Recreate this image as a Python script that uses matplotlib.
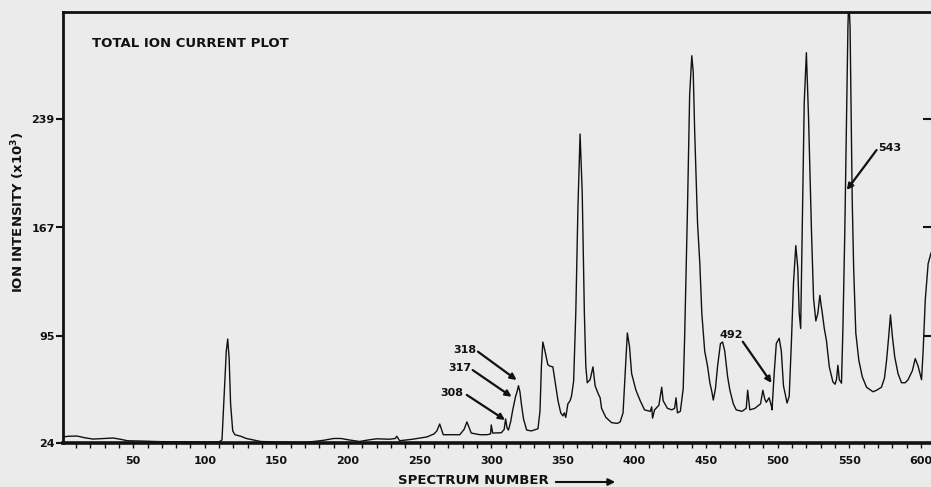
import matplotlib
matplotlib.use("Agg")
import matplotlib.pyplot as plt

# total ion current trace (spectrum number, intensity x10^3)
spectrum = [1, 5, 11, 16, 22, 30, 36, 41, 46, 55, 69, 85, 104, 110, 112, 113.5, 115, 116,
            117, 118, 119.5, 121, 125, 129, 134, 139, 150, 162, 170, 176, 183, 190, 195,
            201, 208, 214, 220, 229, 233, 234, 236, 245, 255, 260, 262, 264, 266.5, 272,
            278, 281, 283, 286, 292, 297, 299.5, 300, 301, 307, 309, 310, 311, 312, 313.5,
            315, 317, 318, 319, 320, 321, 322.5, 324.7, 328, 332.6, 334, 335, 336, 337.5,
            339.5, 341, 343, 344.5, 346.6, 348.5, 350, 351, 352, 353.5, 355, 356, 357.5,
            359, 360.5, 362, 363.5, 365, 366, 367, 369, 371, 372.5, 374.5, 376, 377, 380,
            384, 388, 390, 392, 393.5, 395, 396.5, 398, 401, 404, 407, 411, 412, 412.6,
            414, 417, 419, 420, 423, 426, 428, 429, 430, 432, 434, 435, 437, 438.5, 440,
            441, 442, 444, 445.6, 447, 449, 451, 452.6, 454, 455, 456.5, 458, 460, 461.5,
            463, 465, 466.6, 469, 471, 475, 478, 479, 480.5, 484, 488, 489.6, 491, 492,
            494, 495.7, 496, 497.5, 499, 501, 502.5, 504, 506.5, 508, 509.5, 511, 512.6,
            514, 515, 516, 517, 518.5, 520, 521.5, 523.6, 525, 526.6, 528, 529.4, 530.5,
            531, 532.5, 534, 536, 538.5, 540, 541, 542, 543, 544.5, 545.5, 546.8, 548,
            549, 549.6, 550.5, 552, 553, 554.5, 556.6, 559, 562, 566.5, 569, 572.4, 574.5,
            576, 577.5, 578.7, 580, 581.7, 584, 586.4, 589, 591, 594, 596, 598, 600.4,
            601.5, 603, 605, 607]
intensity = [28, 28.5, 28.6, 27.5, 26.6, 27, 27.3, 26.5, 25.5, 25.3, 24.9, 24.8, 24.7, 24.8,
             26, 55, 85, 93, 80, 50, 32, 29.5, 28.5, 27, 26, 25, 24.7, 24.5, 24.5, 25, 25.8,
             27, 27, 26, 25, 26, 26.8, 26.5, 27, 28.5, 25.5, 26.5, 28, 30, 32, 36.6, 29.5,
             29.5, 29.5, 33, 38, 30.6, 29.5, 29.5, 30, 36, 30.6, 30.8, 33, 40, 34, 32.6, 38,
             46, 55, 58, 62, 58, 50, 40, 32.6, 32, 33.5, 45, 75, 91, 85, 76, 75, 74.5, 65,
             52, 44, 42, 44, 41, 50, 52, 55, 65, 110, 180, 229, 190, 110, 75, 64, 66, 74.5,
             62, 57, 54, 47, 41, 37.5, 37, 38, 44, 70, 97, 88, 70, 59, 52, 46, 45, 48, 40.5,
             46, 49, 61, 52, 47, 46, 47, 54, 44, 45, 60, 94, 180, 255, 281, 270, 231, 170,
             143, 110, 85, 75, 64, 58, 52.5, 60, 75, 90, 91, 85, 68, 59, 50, 46, 45, 47, 59,
             46, 47, 50, 59, 53, 51, 54, 48, 46, 70, 90, 93.5, 85, 62, 50.5, 55, 90, 130,
             155, 140, 110, 100, 160, 250, 283, 240, 163, 120, 105, 110, 122, 114, 111, 100,
             92, 74.5, 64.6, 63, 66, 75.6, 66, 63.7, 100, 163, 240, 300, 320, 300, 185, 140,
             97, 79, 68, 61, 58, 59, 61, 67, 79, 95, 109, 95, 81, 70, 64, 64, 66, 72, 80, 75,
             66, 85, 119, 143, 150]

x_ticks = [50, 100, 150, 200, 250, 300, 350, 400, 450, 500, 550, 600]
y_ticks = [24, 95, 167, 239]

# labelled spectra and the point on the trace each arrow hits
ann_labels = ["308", "317", "318", "492", "543"]
ann_x = [309.6, 314.2, 317.7, 495.7, 548.2]
ann_y = [39.3, 54.7, 65.8, 63.8, 191.9]

paper = "#ebebeb"
ink = "#111111"
bold = dict(fontweight="bold", color=ink)

fig = plt.figure(figsize=(9.31, 4.87), dpi=100, facecolor=paper)
ax = fig.add_axes([63 / 931, 1 - 443 / 487, 868 / 931, 431 / 487], facecolor=paper)

ax.plot(spectrum, intensity, color=ink, lw=1.0)
ax.set_xlim(1, 607)
ax.set_ylim(24, 310)

ax.set_xticks(x_ticks)
ax.set_xticklabels([str(v) for v in x_ticks], fontsize=8, **bold)
ax.set_xticks(range(10, 607, 10), minor=True)
ax.set_yticks(y_ticks)
ax.set_yticklabels([str(v) for v in y_ticks], fontsize=8, **bold)
ax.tick_params(axis="x", which="both", direction="out", length=3.5, width=1, pad=6, colors=ink)
ax.tick_params(axis="y", direction="out", length=5, width=1.5, pad=1, colors=ink)

ax.spines["right"].set_visible(False)
ax.spines["left"].set_linewidth(2)
ax.spines["top"].set_linewidth(2)
ax.spines["bottom"].set_linewidth(2.6)
for s in ax.spines.values():
    s.set_color(ink)

# inward marks on the right edge
ax2 = ax.twinx()
ax2.set_ylim(ax.get_ylim())
ax2.set_yticks(y_ticks[1:])
ax2.set_yticklabels([])
ax2.tick_params(axis="y", direction="in", length=6, width=1.5, colors=ink)
for s in ax2.spines.values():
    s.set_visible(False)

ax.text(0.0334, 0.928, "TOTAL ION CURRENT PLOT", transform=ax.transAxes,
        fontsize=9.5, ha="left", va="center", **bold)

# label centre offsets from the arrow target, and arrow tail offsets
text_off = [(-37.2, 17.9), (-36.2, 19.1), (-36, 19.9), (-28.1, 31.9), (30, 27.9)]
tail_off = [(-26.7, 16.6), (-27.2, 17.7), (-27, 18.8), (-20.1, 27.4), (20.8, 26.5)]
for lab, x, y, (tdx, tdy), (adx, ady) in zip(ann_labels, ann_x, ann_y, text_off, tail_off):
    ax.annotate("", xy=(x, y), xytext=(x + adx, y + ady),
                arrowprops=dict(arrowstyle="-|>", color=ink, lw=1.6,
                                mutation_scale=9, shrinkA=0, shrinkB=0))
    ax.text(x + tdx, y + tdy, lab, fontsize=8, ha="center", va="center", **bold)

fig.text(18 / 931, 1 - 212 / 487, "ION INTENSITY (x10$^\\mathbf{3}$)", rotation=90,
         fontsize=9.5, ha="center", va="center", **bold)
fig.text(473 / 931, 1 - 481 / 487, "SPECTRUM NUMBER", fontsize=9.5,
         ha="center", va="center", **bold)
fig.add_artist(matplotlib.patches.FancyArrowPatch(
    (553 / 931, 1 - 482 / 487), (618 / 931, 1 - 482 / 487), transform=fig.transFigure,
    arrowstyle="-|>", mutation_scale=10, lw=1.5, color=ink))

fig.savefig("out.png", dpi=100, facecolor=paper)
